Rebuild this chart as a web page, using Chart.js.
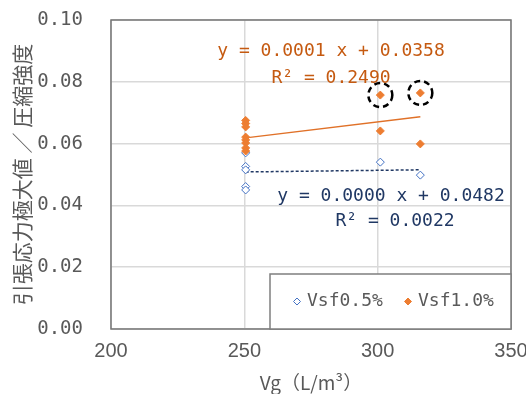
<!DOCTYPE html>
<html>
<head>
<meta charset="utf-8">
<script src="https://cdn.jsdelivr.net/npm/chart.js@4"></script>
<style>
  html, body { margin: 0; padding: 0; background: #ffffff; }
  #wrap { width: 526px; height: 394px; }
</style>
</head>
<body>
<div id="wrap"><canvas id="chart" width="526" height="394"></canvas></div>
<script>
// Unit air content Vg vs. (peak tensile stress / compressive strength)
const seriesNames = ['Vsf0.5%', 'Vsf1.0%'];

const vsf05X = [250.5, 250.5, 250.5, 250.5, 250.5, 301, 316];
const vsf05Y = [0.0570, 0.0526, 0.0515, 0.0461, 0.0450, 0.0540, 0.0498];

const vsf10X = [250.5, 250.5, 250.5, 250.5, 250.5, 250.5, 250.5, 250.5, 301, 301, 316, 316];
const vsf10Y = [0.0675, 0.0665, 0.0654, 0.0621, 0.0612, 0.0602, 0.0586, 0.0576,
                0.0757, 0.0641, 0.0764, 0.0599];

// points picked out with a dashed ring (indices into the Vsf1.0% series)
const ringed = [8, 10];

// linear trend lines: [Vsf0.5%, Vsf1.0%]
const trendSlope = [0.0000105, 0.000104];
const trendIntercept = [0.0482, 0.0358];
const trendR2 = [0.0022, 0.2490];

const xTicks = [200, 250, 300, 350];
const yTicks = [0.00, 0.02, 0.04, 0.06, 0.08, 0.10];

const BLUE = '#4472C4';
const ORANGE = '#ED7D31';
const ORANGE_LINE = '#E07128';
const ORANGE_TEXT = '#C55A11';
const NAVY = '#203864';
const GREY_TEXT = '#595959';
const MONO = '"DejaVu Sans Mono", monospace';
const JP = '"Noto Sans CJK JP", sans-serif';

const toPoints = (xs, ys) => xs.map((x, i) => ({ x: x, y: ys[i] }));

function trendPoints(xs, k) {
  const lo = Math.min(...xs), hi = Math.max(...xs);
  return [lo, hi].map(x => ({ x: x, y: trendSlope[k] * x + trendIntercept[k] }));
}

function eqText(k) {
  return 'y = ' + trendSlope[k].toFixed(4) + ' x + ' + trendIntercept[k].toFixed(4);
}
function r2Text(k) {
  return 'R\u00B2 = ' + trendR2[k].toFixed(4);
}

function diamond(ctx, x, y, r, fill, stroke) {
  ctx.beginPath();
  ctx.moveTo(x, y - r);
  ctx.lineTo(x + r, y);
  ctx.lineTo(x, y + r);
  ctx.lineTo(x - r, y);
  ctx.closePath();
  ctx.fillStyle = fill;
  ctx.fill();
  ctx.lineWidth = 1;
  ctx.strokeStyle = stroke;
  ctx.stroke();
}

const decor = {
  id: 'decor',
  beforeDatasetsDraw(chart) {
    const { ctx, chartArea: a } = chart;
    ctx.save();
    ctx.strokeStyle = '#767676';
    ctx.lineWidth = 1.5;
    ctx.strokeRect(a.left, a.top, a.right - a.left, a.bottom - a.top);
    ctx.restore();
  },
  afterDraw(chart) {
    const { ctx, chartArea: a, scales } = chart;
    const sx = scales.x, sy = scales.y;
    ctx.save();

    // dashed rings
    ctx.strokeStyle = '#000000';
    ctx.lineWidth = 2.5;
    ctx.setLineDash([6, 4]);
    ringed.forEach(i => {
      ctx.beginPath();
      ctx.arc(sx.getPixelForValue(vsf10X[i]), sy.getPixelForValue(vsf10Y[i]), 12, 0, Math.PI * 2);
      ctx.stroke();
    });
    ctx.setLineDash([]);

    // trend line equations
    ctx.font = '18px ' + MONO;
    ctx.textAlign = 'center';
    ctx.textBaseline = 'middle';
    ctx.fillStyle = ORANGE_TEXT;
    ctx.fillText(eqText(1), a.left + 220, a.top + 31);
    ctx.fillText(r2Text(1), a.left + 220, a.top + 58);
    ctx.fillStyle = NAVY;
    ctx.fillText(eqText(0), a.left + 280, a.top + 176);
    ctx.fillText(r2Text(0), a.left + 284, a.top + 201);

    // legend
    const bx = a.left + 159, by = a.bottom - 55, bw = a.right - bx, bh = a.bottom - by;
    ctx.fillStyle = '#ffffff';
    ctx.fillRect(bx, by, bw, bh);
    ctx.strokeStyle = '#7f7f7f';
    ctx.lineWidth = 1.5;
    ctx.strokeRect(bx, by, bw, bh);
    const ly = by + bh / 2;
    diamond(ctx, bx + 27, ly, 3.5, '#ffffff', BLUE);
    diamond(ctx, bx + 138, ly, 3.5, ORANGE, ORANGE);
    ctx.font = '18px ' + MONO;
    ctx.textAlign = 'left';
    ctx.fillStyle = GREY_TEXT;
    ctx.fillText(seriesNames[0], bx + 37, ly);
    ctx.fillText(seriesNames[1], bx + 148, ly);
    ctx.restore();
  }
};

new Chart(document.getElementById('chart'), {
  type: 'scatter',
  data: {
    datasets: [
      {
        label: seriesNames[0],
        data: toPoints(vsf05X, vsf05Y),
        pointStyle: 'rectRot',
        pointRadius: 4,
        pointBackgroundColor: '#ffffff',
        pointBorderColor: BLUE,
        pointBorderWidth: 1,
        order: 1
      },
      {
        label: seriesNames[1],
        data: toPoints(vsf10X, vsf10Y),
        pointStyle: 'rectRot',
        pointRadius: 4,
        pointBackgroundColor: ORANGE,
        pointBorderColor: ORANGE,
        pointBorderWidth: 1,
        order: 0
      },
      {
        type: 'line',
        label: 'trend0',
        data: trendPoints(vsf05X, 0),
        borderColor: NAVY,
        borderWidth: 1.5,
        borderDash: [3, 2],
        pointRadius: 0,
        fill: false,
        order: 3
      },
      {
        type: 'line',
        label: 'trend1',
        data: trendPoints(vsf10X, 1),
        borderColor: ORANGE_LINE,
        borderWidth: 1.5,
        pointRadius: 0,
        fill: false,
        order: 2
      }
    ]
  },
  options: {
    responsive: false,
    animation: false,
    devicePixelRatio: 1,
    layout: { padding: { left: 0, top: 20, right: 15, bottom: 0 } },
    plugins: {
      legend: { display: false },
      tooltip: { enabled: false }
    },
    scales: {
      x: {
        type: 'linear',
        min: xTicks[0],
        max: xTicks[xTicks.length - 1],
        afterBuildTicks: s => { s.ticks = xTicks.map(v => ({ value: v })); },
        afterFit: s => { s.height = 65; s.paddingLeft = 0; s.paddingRight = 0; },
        grid: { color: '#d9d9d9', lineWidth: 1.5, drawTicks: false },
        border: { display: false },
        ticks: {
          padding: 10,
          color: GREY_TEXT,
          font: { family: '"Liberation Sans", Arial, sans-serif', size: 20 },
          maxRotation: 0
        },
        title: {
          display: true,
          text: 'Vg（L/m³）',
          color: GREY_TEXT,
          font: { family: JP, size: 19 },
          padding: { top: 0, bottom: 0 }
        }
      },
      y: {
        type: 'linear',
        min: yTicks[0],
        max: yTicks[yTicks.length - 1],
        afterBuildTicks: s => { s.ticks = yTicks.map(v => ({ value: v })); },
        afterFit: s => { s.width = 111; s.paddingTop = 0; s.paddingBottom = 0; },
        grid: { color: '#d9d9d9', lineWidth: 1.5, drawTicks: false },
        border: { display: false },
        ticks: {
          padding: 28,
          color: GREY_TEXT,
          font: { family: MONO, size: 19 },
          callback: v => v.toFixed(2)
        },
        title: {
          display: true,
          text: '引張応力極大値 ／ 圧縮強度',
          color: GREY_TEXT,
          font: { family: JP, size: 21 },
          padding: { top: 9, bottom: 0 }
        }
      }
    }
  },
  plugins: [decor]
});
</script>
</body>
</html>
